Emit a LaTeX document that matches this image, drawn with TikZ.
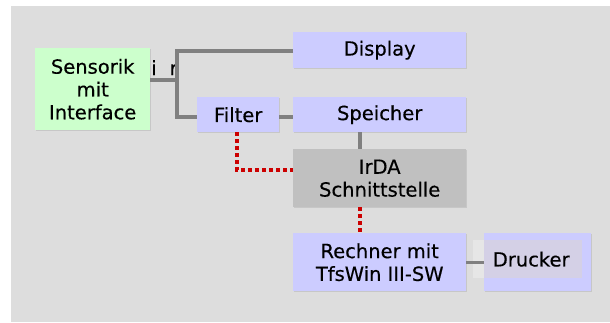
\documentclass[tikz,border=0pt]{standalone}
\usepackage{fontspec}
\setmainfont[FakeBold=0.35]{DejaVu Sans}
\definecolor{bgc}{HTML}{DDDDDD}
\definecolor{lav}{HTML}{CCCCFF}
\definecolor{grn}{HTML}{CCFFCC}
\definecolor{irg}{HTML}{C0C0C0}
\definecolor{drk}{HTML}{D4D0E6}
\definecolor{lnc}{HTML}{808080}
\definecolor{redd}{HTML}{CC0000}
\definecolor{hil}{HTML}{E6E6E6}
\begin{document}
\begin{tikzpicture}[x=1pt,y=-1pt,
  box/.style={draw=none,fill=lav,inner sep=0pt,align=center,font=\fontsize{19.5}{22.8}\selectfont},
  conn/.style={draw=lnc,line width=3.2pt},
  dotc/.style={draw=redd,line width=3.5pt,dash pattern=on 3.5pt off 3.5pt}]
\useasboundingbox (0,0) rectangle (610,322);
\fill[white] (0,0) rectangle (610,322);
\fill[bgc] (11,6) rectangle (610,322);
% shadows
\foreach \a/\b/\c/\d in {36/49/151/131, 294/33/467/69, 198/98/280/133, 294/98/467/133, 294/150/467/208, 294/234/467/292, 485/234/592/292}
  \fill[black!22] (\a,\b) rectangle (\c,\d);
\fill[hil] (473,240) rectangle (484,278);
\node[box,fill=grn,minimum width=115pt,minimum height=82pt,anchor=north west] (sens) at (35,48) {Sensorik\\mit\\Interface};
\node[box,minimum width=173pt,minimum height=36pt,anchor=north west] (disp) at (293,32) {Display};
\node[box,minimum width=82pt,minimum height=35pt,anchor=north west] (filt) at (197,97) {Filter};
\node[box,minimum width=173pt,minimum height=35pt,anchor=north west] (spei) at (293,97) {Speicher};
\node[box,fill=irg,minimum width=173pt,minimum height=58pt,anchor=north west] (irda) at (293,149) {IrDA\\Schnittstelle};
\node[box,minimum width=173pt,minimum height=58pt,anchor=north west] (rech) at (293,233) {Rechner mit\\TfsWin III-SW};
\node[box,minimum width=107pt,minimum height=58pt,anchor=north west] (druck) at (484,233) {};
\node[box,fill=drk,minimum width=98pt,minimum height=38pt,anchor=north west] (dlab) at (484,240) {\kern-4pt Drucker};
\node[font=\fontsize{19.5}{22}\selectfont,anchor=base west,inner sep=0pt] (ir) at (151,75) {i\kern13pt r};
% connectors
\coordinate (j) at (177,80);
\draw[conn] (sens.east |- j) -- (j);
\draw[conn] (disp.west |- 0,51) -| (177,117) -- (filt.west |- 0,117);
\draw[conn] (filt.east |- 0,117) -- (spei.west |- 0,117);
\draw[conn] (spei.south -| 360,0) -- (irda.north -| 360,0);
\draw[conn,line width=3pt] (rech.east |- 0,262) -- (druck.west |- 0,262);
\draw[dotc] (filt.south -| 237,0) -- (237,170) -- (irda.west |- 0,170);
\draw[dotc] (irda.south -| 360,0) -- (rech.north -| 360,0);
\end{tikzpicture}
\end{document}
